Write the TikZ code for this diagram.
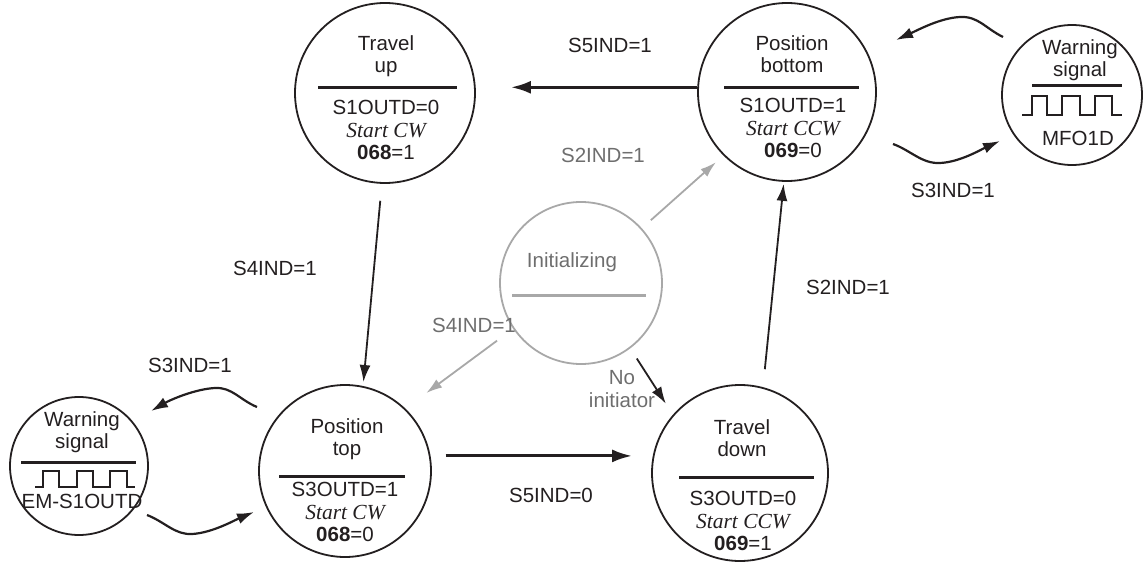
\documentclass[tikz,border=0pt]{standalone}
\usepackage{fontspec}
\setmainfont{Liberation Sans}
\newfontfamily\timesfam{Liberation Serif}
\usetikzlibrary{arrows.meta}
\usepackage{xcolor}
\definecolor{ink}{HTML}{231F20}
\definecolor{initline}{HTML}{A8A8A8}
\definecolor{inittext}{HTML}{6E6E6E}
\newcommand\itrm[1]{{\timesfam\itshape\fontsize{21.5}{22.5}\selectfont #1}}

\begin{document}
\begin{tikzpicture}[x=1pt,y=-1pt]
\tikzstyle{state}=[circle,draw=ink,line width=1.8pt,inner sep=0pt]
\tikzstyle{txt}=[align=center,inner sep=0pt,text=ink,font=\fontsize{20.5}{22.5}\selectfont]
\tikzstyle{lbl}=[inner sep=0pt,text=ink,font=\fontsize{20.5}{22.5}\selectfont]
\tikzstyle{flow}=[draw=ink,line width=1.8pt,-{Latex[length=17pt,width=11pt]}]
\tikzstyle{heavy}=[draw=ink,line width=3pt,-{Latex[length=20pt,width=13pt]}]
\tikzstyle{gflow}=[draw=initline,line width=1.8pt,-{Latex[length=16pt,width=10pt]}]
\tikzstyle{wave}=[draw=ink,line width=2.2pt,-{Latex[length=17pt,width=11pt]}]
\tikzstyle{bar}=[draw=ink,line width=3pt]
\useasboundingbox (0,0) rectangle (1143,572);

% states
\node[state,minimum size=180pt] (up) at (385,93) {};
\node[state,minimum size=178pt] (bot) at (787,92) {};
\node[state,minimum size=172pt] (top) at (345,471) {};
\node[state,minimum size=176pt] (down) at (740,473) {};
\node[state,draw=initline,minimum size=162pt] (init) at (581,283) {};
\node[state,minimum size=140pt] (warnR) at (1072,95) {};
\node[state,minimum size=138pt] (warnL) at (79,466) {};

% contents
\node[txt] (upname) at (386,56) {Travel\\up};
\draw[bar] (318,88) -- (457,88);
\node[txt] (upout) at (386,130) {S1OUTD=0\\\itrm{Start CW}\\\textbf{068}=1};

\node[txt] (botname) at (792,54) {Position\\bottom};
\draw[bar] (724,88) -- (859,88);
\node[txt] (botout) at (793,128) {S1OUTD=1\\\itrm{Start CCW}\\\textbf{069}=0};

\node[txt] (topname) at (347,439) {Position\\top};
\draw[bar] (279,476) -- (405,476);
\node[txt] (topout) at (345,512) {S3OUTD=1\\\itrm{Start CW}\\\textbf{068}=0};

\node[txt] (downname) at (742,438) {Travel\\down};
\draw[bar] (679,477) -- (814,477);
\node[txt] (downout) at (743,521) {S3OUTD=0\\\itrm{Start CCW}\\\textbf{069}=1};

\node[txt,text=inittext] (initname) at (572,262) {Initializing};
\draw[bar,draw=initline] (512,295) -- (646,295);

\node[txt] (warnRname) at (1080,60) {Warning\\signal};
\draw[bar] (1032,86) -- (1122,86);
\draw[ink,line width=2pt] (1022,115) -- (1032,115) -- (1032,96) -- (1047,96) -- (1047,115) -- (1062,115) -- (1062,96) -- (1080,96) -- (1080,115) -- (1095,115) -- (1095,96) -- (1112,96) -- (1112,115) -- (1122,115);
\node[txt] (warnRsig) at (1078,138) {MFO1D};

\node[txt] (warnLname) at (82,432) {Warning\\signal};
\draw[bar] (21,462) -- (136,462);
\draw[ink,line width=2pt] (35,487) -- (43,487) -- (43,471) -- (59,471) -- (59,487) -- (77,487) -- (77,471) -- (93,471) -- (93,487) -- (110,487) -- (110,471) -- (127,471) -- (127,487) -- (135,487);
\node[txt] (warnLsig) at (82,501) {EM-S1OUTD};

% transitions
\draw[heavy,shorten >=35pt] (bot.177) -- (bot.177 -| up.east);
\node[lbl] (s5one) at (610,45) {S5IND=1};
\draw[flow,shorten <=17pt,shorten >=4pt] (up.268) -- (top.78);
\node[lbl] (s4one) at (275,268) {S4IND=1};
\draw[heavy,shorten <=15pt,shorten >=19pt] (top.10) -- (top.10 -| down.west);
\node[lbl] (s5zero) at (551,495) {S5IND=0};
\draw[flow,shorten <=18pt,shorten >=2pt] (down.75) -- (bot.268);
\node[lbl] (s2one) at (848,287) {S2IND=1};

\draw[gflow,shorten <=12pt,shorten >=10pt] (init.42) -- (bot.225);
\node[lbl,text=inittext] (s2init) at (603,155) {S2IND=1};
\draw[gflow,shorten <=20pt,shorten >=26pt] (init.214) -- (top.46);
\node[lbl,text=inittext] (s4init) at (474,325) {S4IND=1};
\draw[flow,shorten <=12pt,shorten >=13pt] (init.-53) -- (down.139);
\node[txt,text=inittext] (noinit) at (622,389) {No\\initiator};

% warning loops
\coordinate (wRa) at (1003,37);
\coordinate (wRb) at (896,40);
\coordinate (wRc) at (893,144);
\coordinate (wRd) at (1000,141);
\draw[wave] (wRa) .. controls (985,28) and (978,16) .. (960,17) .. controls (940,18) and (918,30) .. (wRb);
\draw[wave] (wRc) .. controls (910,150) and (922,164) .. (940,163) .. controls (960,162) and (980,150) .. (wRd);
\node[lbl] (s3right) at (953,190) {S3IND=1};

\coordinate (wLa) at (257,407);
\coordinate (wLb) at (151,411);
\coordinate (wLc) at (147,515);
\coordinate (wLd) at (254,512);
\draw[wave] (wLa) .. controls (240,400) and (232,387) .. (215,388) .. controls (195,389) and (170,400) .. (wLb);
\draw[wave] (wLc) .. controls (165,522) and (175,535) .. (192,534) .. controls (212,533) and (235,520) .. (wLd);
\node[lbl] (s3left) at (190,365) {S3IND=1};
\end{tikzpicture}
\end{document}
